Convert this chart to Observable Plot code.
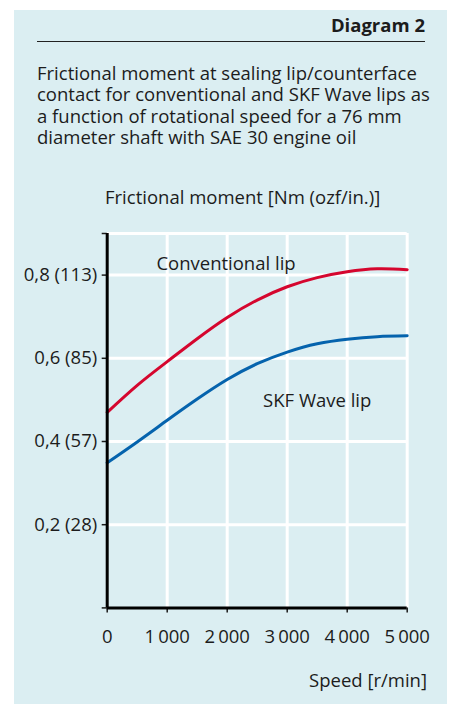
<!DOCTYPE html>
<html><head><meta charset="utf-8">
<script src="https://cdn.jsdelivr.net/npm/d3@7"></script>
<script src="https://cdn.jsdelivr.net/npm/@observablehq/plot@0.6"></script>
<style>
body{margin:0;background:#fff;font-family:"Open Sans",sans-serif;color:#1c1c1c}
#wrap{position:relative;width:450px;height:704px;overflow:hidden}
#panel{position:absolute;left:14px;top:10px;width:433px;height:694px;background:#dbeef2}
.t{position:absolute;font-size:18.5px;line-height:20px;white-space:nowrap}
#head{left:37px;top:14.5px;width:388px;text-align:right;font-weight:bold}
#rule{position:absolute;left:37px;top:40.5px;width:388px;height:1px;background:#222}
.s{left:37px;height:21.5px;line-height:21.5px}
#ylab{left:105px;top:187px}
#xlab{right:23px;top:669.5px}
#chart{position:absolute;left:0;top:180px}
#chart svg text{font-size:18.5px}
</style></head>
<body><div id="wrap">
<div id="panel"></div>
<div class="t" id="head">Diagram 2</div>
<div id="rule"></div>
<div class="t s" style="top:61.5px">Frictional moment at sealing lip/counterface</div>
<div class="t s" style="top:83px">contact for conventional and SKF Wave lips as</div>
<div class="t s" style="top:104.5px">a function of rotational speed for a 76 mm</div>
<div class="t s" style="top:126px">diameter shaft with SAE 30 engine oil</div>
<div class="t" id="ylab">Frictional moment [Nm (ozf/in.)]</div>
<div class="t" id="xlab">Speed [r/min]</div>
<div id="chart"></div>
</div>
<script>
const speed = [0, 500, 1000, 1500, 2000, 2500, 3000, 3500, 4000, 4500, 5000];
const conventional = [0.470, 0.535, 0.592, 0.647, 0.698, 0.740, 0.772, 0.794, 0.808, 0.815, 0.813];
const skfWave = [0.349, 0.399, 0.451, 0.502, 0.549, 0.587, 0.615, 0.635, 0.646, 0.652, 0.654];
const xTicks = [0, 1000, 2000, 3000, 4000, 5000];
const xTickLabels = ["0", "1\u2009000", "2\u2009000", "3\u2009000", "4\u2009000", "5\u2009000"];
const yTicks = [0, 0.2, 0.4, 0.6, 0.8, 0.9];
const yTickLabels = ["", "0,2 (28)", "0,4 (57)", "0,6 (85)", "0,8 (113)", ""];
const seriesLabels = ["Conventional lip", "SKF Wave lip"];
const labelPos = [{x: 1980, y: 0.826}, {x: 3500, y: 0.497}];

const convData = speed.map((s, i) => ({speed: s, value: conventional[i]}));
const waveData = speed.map((s, i) => ({speed: s, value: skfWave[i]}));
const labels = seriesLabels.map((t, i) => ({text: t, ...labelPos[i]}));

const chart = Plot.plot({
  width: 450, height: 470,
  marginLeft: 106.7, marginRight: 43.3, marginTop: 53, marginBottom: 42.6,
  style: {fontFamily: "'Open Sans', sans-serif", fontSize: "18.5px", color: "#1c1c1c", background: "transparent", overflow: "visible"},
  x: {domain: [0, 5000]},
  y: {domain: [0, 0.9]},
  marks: [
    Plot.ruleX(xTicks.slice(1), {stroke: "#ffffff", strokeWidth: 3}),
    Plot.ruleY(yTicks.slice(1), {stroke: "#ffffff", strokeWidth: 3}),
    Plot.line(convData, {x: "speed", y: "value", stroke: "#d5062e", strokeWidth: 3, curve: "natural"}),
    Plot.line(waveData, {x: "speed", y: "value", stroke: "#0563ad", strokeWidth: 3, curve: "natural"}),
    Plot.text(labels, {x: "x", y: "y", text: "text", fontSize: 18.5, fill: "#1c1c1c"}),
    Plot.axisX({ticks: xTicks, tickFormat: d => xTickLabels[xTicks.indexOf(d)], tickSize: 5, tickPadding: 16.8, strokeWidth: 1.5, label: null}),
    Plot.axisY({ticks: yTicks, tickFormat: d => yTickLabels[yTicks.indexOf(d)], tickSize: 5, tickPadding: 5, strokeWidth: 1.5, label: null}),
    Plot.ruleX([0], {y1: 0, y2: 0.9, stroke: "#000", strokeWidth: 3}),
    Plot.ruleY([0], {x1: 0, x2: 5000, stroke: "#000", strokeWidth: 3})
  ]
});
document.getElementById("chart").appendChild(chart);
</script>
</body></html>
